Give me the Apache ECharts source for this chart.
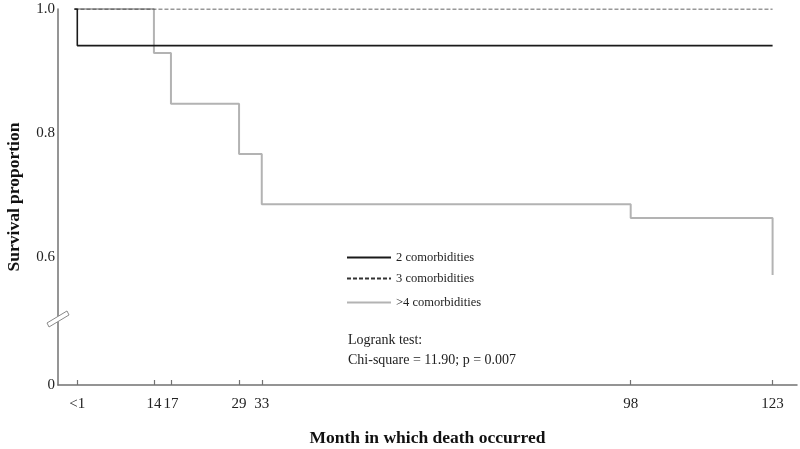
<!DOCTYPE html>
<html><head><meta charset="utf-8">
<script src="https://cdn.jsdelivr.net/npm/echarts@6/dist/echarts.min.js"></script>
<style>html,body{margin:0;padding:0;background:#fff}#c{width:800px;height:449px}</style>
</head><body><div id="c"></div>
<script>
// ---- data ----
const seriesNames = ['2 comorbidities', '3 comorbidities', '>4 comorbidities'];
const times2 = [0, 0.5, 123];
const surv2  = [1.0, 0.941, 0.941];
const times3 = [0, 123];
const surv3  = [1.0, 1.0];
const times4 = [0, 14, 17, 29, 33, 98, 123, 123];
const surv4  = [1.0, 0.929, 0.847, 0.766, 0.685, 0.663, 0.663, 0.571];
const xTickValues = [0.5, 14, 17, 29, 33, 98, 123];
const xTickLabels = ['<1', '14', '17', '29', '33', '98', '123'];
const yTickValues = [0.6, 0.8, 1.0];
const yTickLabels = ['0.6', '0.8', '1.0'];
const yAxisBottomLabel = '0';       // broken axis: bottom of axis stands for 0
const yBreakValue = 0.5;            // where the axis break marker sits
const statLines = ['Logrank test:', 'Chi-square = 11.90; p = 0.007'];

const xMin = -2.9, xMax = 127.3, yMin = 0.3935, yMax = 1.0;
const serif = '"Liberation Serif", "Times New Roman", serif';
const axisColor = '#727272';

const zip = (a, b) => a.map((v, i) => [v, b[i]]);

const chart = echarts.init(document.getElementById('c'), null, {renderer: 'canvas'});

const legendBase = {
  orient: 'vertical', left: 341, itemWidth: 44, itemHeight: 12, itemGap: 4,
  textStyle: {fontFamily: serif, fontSize: 12.5, color: '#222'},
  itemStyle: {opacity: 0},
  selectedMode: false
};

const statGraphics = [
  {type: 'text', left: 348, top: 333, style: {text: statLines[0], font: '14px ' + serif, fill: '#222'}},
  {type: 'text', left: 348, top: 353, style: {text: statLines[1], font: '14px ' + serif, fill: '#222'}}
];

chart.setOption({
  animation: false,
  backgroundColor: '#fff',
  grid: {left: 58, right: 3, top: 9, bottom: 64, containLabel: false, outerBoundsMode: 'none'},
  xAxis: {
    type: 'value', min: xMin, max: xMax,
    name: 'Month in which death occurred', nameLocation: 'middle', nameGap: 44,
    nameTextStyle: {fontFamily: serif, fontSize: 17.5, fontWeight: 'bold', color: '#111'},
    axisLine: {show: true, onZero: false, lineStyle: {color: axisColor, width: 1.5}},
    axisTick: {show: true, inside: true, length: 5, customValues: xTickValues,
               lineStyle: {color: axisColor, width: 1.2}},
    axisLabel: {customValues: xTickValues, margin: 12, fontFamily: serif, fontSize: 15, color: '#222',
                formatter: v => xTickLabels[xTickValues.indexOf(v)] ?? ''},
    splitLine: {show: false}
  },
  yAxis: {
    type: 'value', min: yMin, max: yMax,
    name: 'Survival proportion', nameLocation: 'middle', nameGap: 35, nameRotate: 90,
    nameTextStyle: {fontFamily: serif, fontSize: 17.5, fontWeight: 'bold', color: '#111'},
    axisLine: {show: true, onZero: false, lineStyle: {color: axisColor, width: 1.5}},
    axisTick: {show: false},
    axisLabel: {customValues: [yMin].concat(yTickValues), margin: 3, fontFamily: serif, fontSize: 15, color: '#222',
                formatter: v => v === yMin ? yAxisBottomLabel : (yTickLabels[yTickValues.indexOf(v)] ?? '')},
    splitLine: {show: false}
  },
  legend: [
    Object.assign({}, legendBase, {top: 246, data: [seriesNames[0]]}),
    Object.assign({}, legendBase, {top: 267, data: [seriesNames[1]]}),
    Object.assign({}, legendBase, {top: 291, data: [seriesNames[2]]})
  ],
  series: [
    {name: seriesNames[2], type: 'line', step: 'end', symbol: 'none', z: 2,
     data: zip(times4, surv4), lineStyle: {color: '#b3b3b3', width: 2}, itemStyle: {color: '#b3b3b3'}},
    {name: seriesNames[1], type: 'line', step: 'end', symbol: 'none', z: 3,
     data: zip(times3, surv3), lineStyle: {color: '#333', width: 1, type: [4, 2]}, itemStyle: {color: '#333'}},
    {name: seriesNames[0], type: 'line', step: 'end', symbol: 'none', z: 4,
     data: zip(times2, surv2), lineStyle: {color: '#1a1a1a', width: 1.6}, itemStyle: {color: '#1a1a1a'}}
  ],
  graphic: statGraphics
});

// axis break marker, positioned through the axis scale
const bp = chart.convertToPixel({gridIndex: 0}, [xMin, yBreakValue]);
chart.setOption({
  graphic: statGraphics.concat([
    {type: 'polygon', z: 100,
     shape: {points: [[bp[0] - 11, bp[1] + 4], [bp[0] + 9, bp[1] - 8], [bp[0] + 11, bp[1] - 4], [bp[0] - 9, bp[1] + 8]]},
     style: {fill: '#fff', stroke: '#8a8a8a', lineWidth: 1}}
  ])
});
</script>
</body></html>
